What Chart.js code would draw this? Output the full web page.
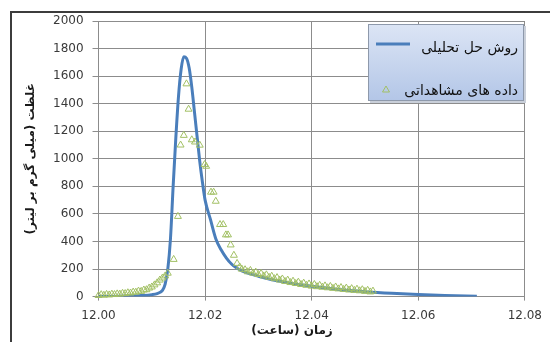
<!DOCTYPE html>
<html>
<head>
<meta charset="utf-8">
<script src="https://cdn.jsdelivr.net/npm/chart.js@4"></script>
<style>
  html, body { margin: 0; padding: 0; background: #fff; }
  canvas { display: block; }
</style>
</head>
<body>
<canvas id="chart" width="550" height="342"></canvas>
<script>
// axis ticks
const xMin = 12.00, xMax = 12.08, xStep = 0.02;
const yMin = 0, yMax = 2000, yStep = 200;

// analytical solution (hours, mg/L)
const modelTime = [12.000, 12.004, 12.008, 12.010, 12.011, 12.012, 12.0125, 12.013, 12.0135, 12.014,
    12.0145, 12.015, 12.0155, 12.016, 12.0165, 12.017, 12.0175, 12.018, 12.0185, 12.019,
    12.0195, 12.020, 12.021, 12.022, 12.023, 12.024, 12.025, 12.026, 12.027, 12.028,
    12.030, 12.032, 12.035, 12.038, 12.040, 12.045, 12.050, 12.055, 12.060, 12.065, 12.071];
const modelConc = [0, 3, 8, 14, 22, 45, 90, 200, 420, 800,
    1150, 1450, 1650, 1740, 1730, 1660, 1520, 1340, 1160, 980,
    830, 700, 560, 420, 340, 280, 235, 205, 185, 170,
    148, 128, 105, 86, 75, 52, 36, 24, 15, 8, 3];

// observed data (hours, mg/L)
const obsTime = [12.0000, 12.0005, 12.0010, 12.0015, 12.0020, 12.0025, 12.0030, 12.0035, 12.0040, 12.0045,
    12.0050, 12.0055, 12.0060, 12.0065, 12.0070, 12.0075, 12.0080, 12.0085, 12.0090, 12.0095,
    12.0100, 12.0105, 12.0110, 12.0115, 12.0120, 12.0125, 12.0130,
    12.0141, 12.0149, 12.0154, 12.0160, 12.0165, 12.0169, 12.0175, 12.0181, 12.0190, 12.0199,
    12.0202, 12.0211, 12.0216, 12.0220, 12.0228, 12.0234, 12.0239, 12.0243, 12.0248, 12.0254,
    12.0260, 12.0265, 12.0269,
    12.0275, 12.0280, 12.0285, 12.0290, 12.0295, 12.0300, 12.0305, 12.0310, 12.0315, 12.0320,
    12.0325, 12.0330, 12.0335, 12.0340, 12.0345, 12.0350, 12.0355, 12.0360, 12.0365, 12.0370,
    12.0375, 12.0380, 12.0385, 12.0390, 12.0395, 12.0400, 12.0405, 12.0410, 12.0415, 12.0420,
    12.0425, 12.0430, 12.0435, 12.0440, 12.0445, 12.0450, 12.0455, 12.0460, 12.0465, 12.0470,
    12.0475, 12.0480, 12.0485, 12.0490, 12.0495, 12.0500, 12.0505, 12.0510, 12.0515];
const obsConc = [8, 14, 10, 16, 12, 18, 15, 20, 18, 24,
    22, 28, 26, 33, 32, 40, 38, 48, 50, 62,
    70, 85, 100, 120, 135, 150, 170,
    270, 582, 1100, 1170, 1544, 1360, 1138, 1122, 1099, 958,
    946, 758, 758, 692, 523, 523, 448, 448, 375, 300,
    241, 215, 199,
    195, 180, 190, 170, 178, 160, 168, 150, 158, 140,
    148, 130, 138, 120, 128, 110, 120, 102, 112, 95,
    105, 88, 98, 82, 92, 76, 88, 72, 82, 68,
    78, 64, 74, 60, 70, 56, 66, 52, 62, 48,
    58, 45, 54, 42, 50, 38, 46, 34, 40];

const modelName = 'روش حل تحلیلی';
const obsName = 'داده های مشاهداتی';
const xTitle = 'زمان (ساعت)';
const yTitle = 'غلظت (میلی گرم بر لیتر)';

const lineColor = '#4a7ebb';
const obsColor = '#a2c064';
const gridColor = '#8c8c8c';
const font = 'DejaVu Sans';

const decor = {
    id: 'decor',
    beforeDraw(chart) {
        // outer frame, top and left only
        chart.ctx.fillStyle = '#3c3c3c';
        chart.ctx.fillRect(10, 11, 540, 2);
        chart.ctx.fillRect(10, 11, 2, 331);
    },
    afterDraw(chart) {
        const ctx = chart.ctx;
        const a = chart.chartArea;
        ctx.save();
        ctx.direction = 'rtl';
        ctx.fillStyle = '#1a1a1a';
        ctx.font = `bold 12px "${font}"`;
        ctx.textAlign = 'center';
        ctx.textBaseline = 'middle';
        // y title
        ctx.save();
        ctx.translate(30.5, (a.top + a.bottom) / 2);
        ctx.rotate(-Math.PI / 2);
        ctx.fillText(yTitle, 0, 0);
        ctx.restore();
        // x title
        ctx.fillText(xTitle, 292, 331);

        // legend box
        const bx = 368, by = 24, bw = 156, bh = 77;
        const g = ctx.createLinearGradient(0, by, 0, by + bh);
        g.addColorStop(0, '#dce5f5');
        g.addColorStop(1, '#b3c6e7');
        ctx.fillStyle = '#c9cfd9';
        ctx.fillRect(bx + 2, by + 2, bw, bh);
        ctx.fillStyle = g;
        ctx.fillRect(bx, by, bw, bh);
        ctx.strokeStyle = '#8e99ab';
        ctx.lineWidth = 1;
        ctx.strokeRect(bx + 0.5, by + 0.5, bw - 1, bh - 1);

        ctx.font = `14px "${font}"`;
        ctx.fillStyle = '#111';
        ctx.textAlign = 'right';
        ctx.fillText(modelName, 518, 48);
        ctx.fillText(obsName, 518, 91);

        ctx.strokeStyle = lineColor;
        ctx.lineWidth = 3;
        ctx.beginPath();
        ctx.moveTo(376, 44);
        ctx.lineTo(410, 44);
        ctx.stroke();

        ctx.strokeStyle = obsColor;
        ctx.lineWidth = 1;
        ctx.beginPath();
        ctx.moveTo(386, 86);
        ctx.lineTo(382.5, 92);
        ctx.lineTo(389.5, 92);
        ctx.closePath();
        ctx.stroke();
        ctx.restore();
    }
};

new Chart(document.getElementById('chart'), {
    type: 'scatter',
    data: {
        datasets: [
            {
                label: obsName,
                data: obsTime.map((t, i) => ({ x: t, y: obsConc[i] })),
                pointStyle: 'triangle',
                pointRadius: 4,
                borderColor: obsColor,
                backgroundColor: 'rgba(255,255,255,0)',
                borderWidth: 1,
                clip: 6
            },
            {
                label: modelName,
                data: modelTime.map((t, i) => ({ x: t, y: modelConc[i] })),
                showLine: true,
                borderColor: lineColor,
                backgroundColor: lineColor,
                borderWidth: 3,
                pointRadius: 0,
                cubicInterpolationMode: 'monotone'
            }
        ]
    },
    options: {
        responsive: false,
        animation: false,
        layout: { padding: { left: 44, top: 21, right: 19, bottom: 11 } },
        plugins: { legend: { display: false } },
        scales: {
            x: {
                min: xMin, max: xMax,
                grid: { color: gridColor, tickLength: 4 },
                border: { color: gridColor },
                ticks: {
                    stepSize: xStep,
                    padding: 8,
                    color: '#3a3a3a',
                    font: { family: font, size: 12 },
                    callback: v => Number(v).toFixed(2)
                }
            },
            y: {
                min: yMin, max: yMax,
                grid: { color: gridColor, tickLength: 6 },
                border: { color: gridColor },
                ticks: {
                    stepSize: yStep,
                    padding: 9,
                    color: '#3a3a3a',
                    font: { family: font, size: 12 },
                    callback: v => String(v)
                }
            }
        }
    },
    plugins: [decor]
});
</script>
</body>
</html>
